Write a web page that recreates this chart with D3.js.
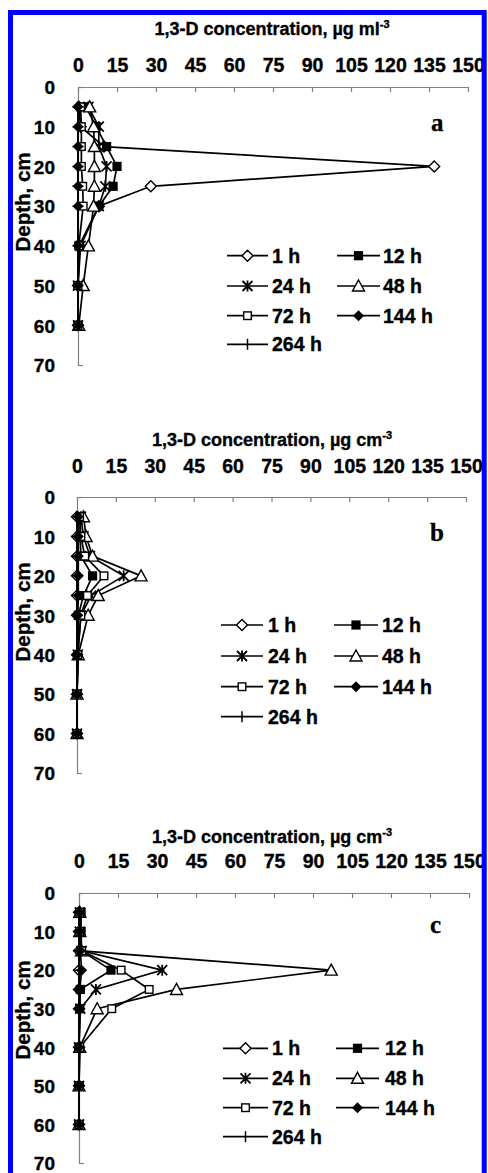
<!DOCTYPE html>
<html><head><meta charset="utf-8">
<script src="https://cdn.jsdelivr.net/npm/d3@7/dist/d3.min.js"></script>
<style>body{margin:0;background:#fff}svg{display:block}</style>
</head><body>
<script>
// ---------- data ----------
const depths = [5, 10, 15, 20, 25, 30, 40, 50, 60];
const seriesNames = ["1 h", "12 h", "24 h", "48 h", "72 h", "144 h", "264 h"];
const xTickValues = [0, 15, 30, 45, 60, 75, 90, 105, 120, 135, 150];
const yTickValues = [0, 10, 20, 30, 40, 50, 60, 70];
const panelLetters = ["a", "b", "c"];
const titleTexts = ["1,3-D concentration, µg ml", "1,3-D concentration, µg cm", "1,3-D concentration, µg cm"];
const titleSup = "-3";
const yAxisLabel = "Depth, cm";

// panel a (µg ml-3)
const a_1h   = [0.3, 1, 10, 137, 28, 8, 0.5, 0, 0];
const a_12h  = [3, 7, 11, 15, 13.5, 8, 0.5, 0, 0];
const a_24h  = [4, 8, 8, 11, 10.5, 8, 1, 0, 0];
const a_48h  = [4.5, 6, 6.3, 6.3, 6.3, 6, 4, 2, 0.3];
const a_72h  = [1, 1.3, 1.3, 1.3, 1.8, 2, 0.3, 0, 0];
const a_144h = [0, 0, 0, 0, 0, 0, 0, 0, 0];
const a_264h = [0, 0, 0, 0, 0, 0, 0, 0, 0];
// panel b
const b_1h   = [0, 0, 0, 0, 0, 0, 0, 0, 0];
const b_12h  = [1.2, 1.2, 1.5, 6, 2.5, 0.5, 0.3, 0, 0];
const b_24h  = [1.5, 2.5, 5, 18, 5.5, 1.5, 0.3, 0, 0];
const b_48h  = [2.5, 3.5, 6, 24.7, 8.2, 4.3, 0.5, 0, 0];
const b_72h  = [1, 1.5, 3, 10.4, 4, 1.5, 0.3, 0, 0];
const b_144h = [0.5, 0.5, 0.5, 0.5, 0.5, 0.3, 0, 0, 0];
const b_264h = [0, 0, 0, 0, 0, 0, 0, 0, 0];
// panel c
const c_1h   = [0, 0, 0, 0, 0, 0, 0, 0, 0];
const c_12h  = [0.8, 0.8, 1, 12.3, 0.5, 0.3, 0, 0, 0];
const c_24h  = [0.3, 0.3, 1, 32, 6.5, 0.5, 0, 0, 0];
const c_48h  = [0.3, 0.3, 1, 97, 37.5, 7, 0.3, 0, 0];
const c_72h  = [0.3, 0.3, 1, 16.2, 27, 12.6, 0.3, 0, 0];
const c_144h = [0.3, 0.3, 0.5, 1, 0.3, 0.3, 0, 0, 0];
const c_264h = [0, 0, 0, 0, 0, 0, 0, 0, 0];

const panelData = [
  [a_1h, a_12h, a_24h, a_48h, a_72h, a_144h, a_264h],
  [b_1h, b_12h, b_24h, b_48h, b_72h, b_144h, b_264h],
  [c_1h, c_12h, c_24h, c_48h, c_72h, c_144h, c_264h]
];

// ---------- layout ----------
const W = 488, H = 1173;
const FONT = "'Liberation Sans', Arial, sans-serif";
const layouts = [
  {axisY: 87,  x0: 78, x1: 468, y70: 365,  titleY: 35,  tickY: 71.5, cx: 272, letter: [431, 131], depthCY: 202,
   rows: [255.7, 286, 315.7, 344.3], c1: [227, 268, 272], c2: [337, 380, 383]},
  {axisY: 497, x0: 77, x1: 466, y70: 773,  titleY: 446, tickY: 473,  cx: 272, letter: [430, 541], depthCY: 612,
   rows: [625, 656, 686.7, 716.7], c1: [221, 263, 268], c2: [334, 378, 382]},
  {axisY: 893, x0: 79, x1: 469, y70: 1163, titleY: 843, tickY: 868,  cx: 272, letter: [430, 933], depthCY: 1010,
   rows: [1048.3, 1078.3, 1107.7, 1136.7], c1: [223, 268, 272], c2: [336, 379, 385]}
];
const markerTypes = ["diamondOpen", "squareFilled", "asterisk", "triangleOpen", "squareOpen", "diamondFilled", "plus"];

const svg = d3.select("body").append("svg").attr("width", W).attr("height", H);
svg.append("rect").attr("width", W).attr("height", H).attr("fill", "#fff");

function boldText(sel, size) {
  return sel.attr("font-family", FONT).attr("font-weight", "bold").attr("font-size", size)
    .attr("fill", "#000").attr("stroke", "#000").attr("stroke-width", 0.35);
}

function marker(g, type, x, y) {
  const m = g.append("g").attr("transform", `translate(${x},${y})`);
  if (type === "diamondOpen") {
    m.append("path").attr("d", "M0,-5.5L5.5,0L0,5.5L-5.5,0Z").attr("fill", "#fff").attr("stroke", "#000").attr("stroke-width", 1.4);
  } else if (type === "diamondFilled") {
    m.append("path").attr("d", "M0,-5.5L5.5,0L0,5.5L-5.5,0Z").attr("fill", "#000");
  } else if (type === "squareFilled") {
    m.append("rect").attr("x", -4.6).attr("y", -4.6).attr("width", 9.2).attr("height", 9.2).attr("fill", "#000");
  } else if (type === "squareOpen") {
    m.append("rect").attr("x", -3.8).attr("y", -3.8).attr("width", 7.6).attr("height", 7.6).attr("fill", "#fff").attr("stroke", "#000").attr("stroke-width", 1.4);
  } else if (type === "triangleOpen") {
    m.append("path").attr("d", "M0,-6L6,5L-6,5Z").attr("fill", "#fff").attr("stroke", "#000").attr("stroke-width", 1.4);
  } else if (type === "asterisk") {
    m.append("path").attr("d", "M-5,-5L5,5M-5,5L5,-5M0,-5.5L0,5.5").attr("stroke", "#000").attr("stroke-width", 1.8);
  } else if (type === "plus") {
    m.append("path").attr("d", "M0,-5.5L0,5.5M-5.5,0L5.5,0").attr("stroke", "#000").attr("stroke-width", 1.5);
  }
}

layouts.forEach((L, pi) => {
  const g = svg.append("g");
  const x = d3.scaleLinear().domain([0, 150]).range([L.x0, L.x1]);
  const y = d3.scaleLinear().domain([0, 70]).range([L.axisY, L.y70]);

  // title
  const t = boldText(g.append("text").attr("x", L.cx).attr("y", L.titleY).attr("text-anchor", "middle"), 18);
  t.append("tspan").text(titleTexts[pi]);
  t.append("tspan").attr("dy", -7).attr("font-size", 11).text(titleSup);

  // x axis (top)
  const xAxis = d3.axisTop(x).tickValues(xTickValues).tickSizeInner(-5).tickSizeOuter(0).tickPadding(0).tickFormat(d3.format("d"));
  const gx = g.append("g").attr("transform", `translate(0,${L.axisY})`).call(xAxis);
  gx.select(".domain").attr("stroke", "#808080").attr("stroke-width", 1.2);
  gx.selectAll(".tick line").attr("stroke", "#808080").attr("stroke-width", 1.2);
  boldText(gx.selectAll(".tick text").attr("y", L.tickY - L.axisY).attr("dy", 0), 19.5);

  // y axis
  const yAxis = d3.axisLeft(y).tickValues(yTickValues).tickSizeInner(0).tickSizeOuter(0).tickPadding(0).tickFormat(d3.format("d"));
  const gy = g.append("g").attr("transform", `translate(${L.x0},0)`).call(yAxis);
  gy.select(".domain").attr("stroke", "#808080").attr("stroke-width", 1.2);
  boldText(gy.selectAll(".tick text").attr("x", 55 - L.x0).attr("dy", "0.36em"), 19);
  gy.selectAll(".tick line").attr("x2", 5).attr("stroke", "#808080").attr("stroke-width", 1.2);

  // y label
  boldText(g.append("text").attr("transform", `translate(30,${L.depthCY}) rotate(-90)`).attr("text-anchor", "middle"), 20.5)
    .text(yAxisLabel);

  // panel letter
  g.append("text").attr("x", L.letter[0]).attr("y", L.letter[1])
    .attr("font-family", "'Liberation Serif', 'Times New Roman', serif").attr("font-weight", "bold")
    .attr("font-size", 25).attr("stroke", "#000").attr("stroke-width", 0.3).text(panelLetters[pi]);

  // series
  const line = d3.line().x(d => x(d[1])).y(d => y(d[0]));
  panelData[pi].forEach((vals, si) => {
    const pts = depths.map((dp, i) => [dp, vals[i]]);
    const sg = g.append("g");
    sg.append("path").attr("d", line(pts)).attr("fill", "none").attr("stroke", "#000").attr("stroke-width", 1.7);
    pts.forEach(p => marker(sg, markerTypes[si], x(p[1]), y(p[0])));
  });

  // legend
  seriesNames.forEach((name, si) => {
    const row = Math.floor(si / 2), col = si % 2;
    const C = col === 0 ? L.c1 : L.c2;
    const ry = L.rows[row];
    const lg = g.append("g");
    lg.append("line").attr("x1", C[0]).attr("x2", C[1]).attr("y1", ry).attr("y2", ry).attr("stroke", "#000").attr("stroke-width", 1.7);
    if (markerTypes[si] === "plus") {
      lg.append("line").attr("x1", (C[0] + C[1]) / 2).attr("x2", (C[0] + C[1]) / 2).attr("y1", ry - 5.5).attr("y2", ry + 5.5).attr("stroke", "#000").attr("stroke-width", 1.5);
    } else {
      marker(lg, markerTypes[si], (C[0] + C[1]) / 2, ry);
    }
    boldText(lg.append("text").attr("x", C[2]).attr("y", ry).attr("dy", "0.36em"), 19.5).text(name);
  });
});

// blue frame
svg.append("rect").attr("x", 10.5).attr("y", 12.5).attr("width", 473.7).attr("height", 1185)
  .attr("fill", "none").attr("stroke", "#0000ff").attr("stroke-width", 5);
</script>
</body></html>
